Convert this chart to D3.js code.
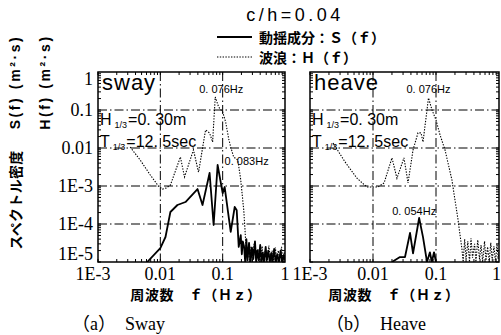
<!DOCTYPE html>
<html><head><meta charset="utf-8">
<script src="https://cdn.jsdelivr.net/npm/d3@7"></script>
<style>
html,body{margin:0;padding:0;background:#fff;}
svg{display:block;}
</style></head>
<body>
<svg id="chart" width="501" height="335"></svg>
<script>
// ---------- data ----------
const xTickValues = [1e-3, 0.01, 0.1, 1];
const xTickLabels = ["1E-3", "0.01", "0.1", "1"];
const yTickValues = [1, 0.1, 0.01, 1e-3, 1e-4, 1e-5];
const yTickLabels = ["1", "0.1", "0.01", "1E-3", "1E-4", "1E-5"];

// Sway: motion component S(f)
const swaySFreq = [0.00616,0.01,0.0121,0.0145,0.0188,0.0253,0.0395,0.0475,0.0617,0.0716,0.083,0.1,0.1077,0.1346,0.156,0.168,0.181,0.195,0.203,0.21,
  0.22,0.23,0.24,0.25,0.265,0.28,0.295,0.31,0.33,0.345,0.36,0.38,0.40,0.42,0.44,0.46,0.49,0.51,0.54,0.57,0.60,0.63,0.67,0.71,0.75,0.80,0.85,0.90,0.95,1.0];
const swaySVal = [1e-5,2.33e-5,4.55e-5,2.07e-4,3.16e-4,3.79e-4,8.3e-4,3.16e-4,2.2e-3,9.4e-5,3.57e-3,6.5e-4,9.4e-4,6.2e-5,2.8e-4,2.3e-4,2.5e-5,5.1e-5,1.6e-5,3.5e-5,
  2.6e-5,1.0e-5,4.0e-5,1.1e-5,3.2e-5,1.0e-5,2.4e-5,1.2e-5,3.5e-5,1.0e-5,2.0e-5,1.1e-5,2.8e-5,1.0e-5,1.8e-5,1.0e-5,2.5e-5,1.1e-5,2.0e-5,1.0e-5,1.7e-5,1.0e-5,2.2e-5,1.0e-5,1.6e-5,1.0e-5,2.0e-5,1.0e-5,1.5e-5,1.1e-5];

// Sway: wave H(f)
const swayHFreq = [0.00328,0.00476,0.0069,0.0093,0.0108,0.0125,0.0145,0.021,0.0244,0.034,0.041,0.0532,0.0617,0.069,0.076,0.0862,0.1,0.1117,0.125,0.1346,0.150,0.175,0.195,0.218,0.235,0.253,
  0.26,0.27,0.285,0.30,0.32,0.34,0.37,0.39,0.43,0.45,0.48,0.52,0.55,0.59,0.62,0.66,0.70,0.74,0.78,0.83,0.88,0.93,0.97,1.0];
const swayHVal = [0.0106,4.8e-3,1.95e-3,1.0e-3,8.3e-4,8.9e-4,1.06e-3,5.8e-3,1.73e-3,8.9e-3,2.3e-3,0.0298,0.0248,0.0144,0.22,0.12,0.0886,0.0483,0.0173,0.0106,5.8e-3,4.8e-3,1.44e-3,2.3e-4,3.2e-5,1.3e-5,
  3e-5,1e-5,2.5e-5,1e-5,3e-5,1.1e-5,2.2e-5,1e-5,2.6e-5,1e-5,1.9e-5,1e-5,2.7e-5,1.1e-5,2e-5,1e-5,2.4e-5,1e-5,2e-5,1.1e-5,2.5e-5,1e-5,1.8e-5,1.2e-5];

// Heave: motion component S(f)
const heaveSFreq = [0.020,0.0268,0.0322,0.0387,0.0432,0.054,0.0622,0.072,0.080,0.0859,0.093,0.1];
const heaveSVal = [1e-5,1.35e-5,1.35e-5,5.8e-5,1.7e-5,1.44e-4,4.5e-5,1e-5,1.8e-5,1e-5,1.8e-5,1e-5];

// Heave: wave H(f)
const heaveHFreq = [0.00232,0.0036,0.00557,0.008,0.012,0.015,0.020,0.024,0.031,0.036,0.0432,0.0518,0.0578,0.0622,0.076,0.0865,0.1,0.116,0.139,0.179,0.224,0.259,
  0.27,0.285,0.30,0.32,0.34,0.36,0.38,0.41,0.43,0.46,0.49,0.52,0.55,0.59,0.62,0.66,0.70,0.74,0.78,0.83,0.88,0.93,0.97,1.0];
const heaveHVal = [0.0135,4.3e-3,1.6e-3,9.4e-4,9.4e-4,1.2e-3,5.5e-3,1.6e-3,5.5e-3,1.2e-3,8.9e-3,0.025,0.025,0.0144,0.207,0.1,0.0546,0.022,8.9e-3,1.44e-3,1.27e-4,2.07e-5,
  1e-5,4e-5,1.2e-5,3.5e-5,1e-5,4.2e-5,1.3e-5,3e-5,1e-5,3.8e-5,1.2e-5,2.8e-5,1e-5,3.5e-5,1.1e-5,2.5e-5,1e-5,3.2e-5,1.1e-5,2.6e-5,1e-5,3e-5,1.2e-5,2e-5];

const panels = [
  {id:"sway", name:"sway", x0:98, x1:285, sF:swaySFreq, sV:swaySVal, hF:swayHFreq, hV:swayHVal,
   notes:[{t:"0. 076Hz", f:0.076, v:0.22, dx:-16, y:93},{t:"0. 083Hz", f:0.083, v:3.57e-3, dx:7, y:165}],
   caption:"（a）　Sway", capX:72, axX:196, showY:true},
  {id:"heave", name:"heave", x0:310, x1:499, sF:heaveSFreq, sV:heaveSVal, hF:heaveHFreq, hV:heaveHVal,
   notes:[{t:"0. 076Hz", f:0.076, v:0.207, dx:-22, y:93},{t:"0. 054Hz", f:0.054, v:1.44e-4, dx:-27, y:215}],
   caption:"（b）　Heave", capX:326, axX:394, showY:false}
];

// ---------- drawing ----------
const svg = d3.select("#chart");
const yTop = 72, yBot = 262;
const y = d3.scaleLog().domain([1e-5, 1]).range([yBot, yTop]);
const serif = "'Liberation Serif','Times New Roman',serif";
const sans = "'Liberation Sans',Arial,sans-serif";
const cjk = "'Noto Sans CJK JP','Noto Sans',sans-serif";

panels.forEach((p, pi) => {
  const x = d3.scaleLog().domain([1e-3, 1]).range([p.x0, p.x1]);
  const g = svg.append("g");
  const clipId = "clip" + pi;
  svg.append("clipPath").attr("id", clipId).append("rect")
    .attr("x", p.x0).attr("y", yTop).attr("width", p.x1 - p.x0).attr("height", yBot - yTop);

  // grid (dash-dot)
  const dash = "9,3,1.5,3";
  [0.1, 0.01, 1e-3, 1e-4].forEach(v => {
    g.append("line").attr("x1", p.x0).attr("x2", p.x1).attr("y1", y(v)).attr("y2", y(v))
      .attr("stroke", "#000").attr("stroke-width", 1).attr("stroke-dasharray", dash);
  });
  [0.01, 0.1].forEach(f => {
    g.append("line").attr("x1", x(f)).attr("x2", x(f)).attr("y1", yTop).attr("y2", yBot)
      .attr("stroke", "#000").attr("stroke-width", 1).attr("stroke-dasharray", dash);
  });

  const dg = g.append("g").attr("clip-path", `url(#${clipId})`);
  const lineGen = d3.line().x(d => x(d[0])).y(d => y(d[1]));
  // wave H(f) dotted
  dg.append("path").datum(p.hF.map((f, i) => [f, p.hV[i]]))
    .attr("d", lineGen).attr("fill", "none").attr("stroke", "#000")
    .attr("stroke-width", 1.1).attr("stroke-dasharray", "1.4,1.4");
  // motion S(f) solid
  dg.append("path").datum(p.sF.map((f, i) => [f, p.sV[i]]))
    .attr("d", lineGen).attr("fill", "none").attr("stroke", "#000")
    .attr("stroke-width", 1.8).attr("stroke-linejoin", "round");

  // frame
  g.append("rect").attr("x", p.x0).attr("y", yTop).attr("width", p.x1 - p.x0).attr("height", yBot - yTop)
    .attr("fill", "none").attr("stroke", "#000").attr("stroke-width", 1.5);

  // minor ticks
  const minorX = [], minorY = [];
  for (let e = -3; e < 0; e++) for (let m = 1; m < 10; m++) minorX.push(m * Math.pow(10, e));
  for (let e = -5; e < 0; e++) for (let m = 1; m < 10; m++) minorY.push(m * Math.pow(10, e));
  minorX.forEach(f => {
    const L = 3;
    g.append("line").attr("x1", x(f)).attr("x2", x(f)).attr("y1", yBot).attr("y2", yBot - L).attr("stroke", "#000").attr("stroke-width", 1);
    g.append("line").attr("x1", x(f)).attr("x2", x(f)).attr("y1", yTop).attr("y2", yTop + L).attr("stroke", "#000").attr("stroke-width", 1);
  });
  minorY.forEach(v => {
    const L = 3;
    g.append("line").attr("x1", p.x0).attr("x2", p.x0 + L).attr("y1", y(v)).attr("y2", y(v)).attr("stroke", "#000").attr("stroke-width", 1);
    g.append("line").attr("x1", p.x1).attr("x2", p.x1 - L).attr("y1", y(v)).attr("y2", y(v)).attr("stroke", "#000").attr("stroke-width", 1);
  });

  // x tick labels
  xTickValues.forEach((f, i) => {
    let xx = x(f), anchor = "middle";
    if (pi === 0 && i === 0) xx -= 5;
    if (pi === 1 && i === 3) { xx = 501; anchor = "end"; }
    g.append("text").attr("x", xx).attr("y", 280).attr("text-anchor", anchor)
      .attr("font-family", serif).attr("font-size", 18).text(xTickLabels[i]);
  });
  // y tick labels
  if (p.showY) {
    yTickValues.forEach((v, i) => {
      let yy = y(v);
      if (i === 0) yy += 7;
      if (i === yTickValues.length - 1) yy -= 8;
      g.append("text").attr("x", 93).attr("y", yy).attr("text-anchor", "end")
        .attr("dominant-baseline", "central")
        .attr("font-family", serif).attr("font-size", 18).text(yTickLabels[i]);
    });
  }

  // panel name
  g.append("text").attr("x", p.x0 + 4).attr("y", 90).attr("font-family", sans)
    .attr("font-size", 22).attr("letter-spacing", 1).text(p.name);

  // H1/3, T1/3
  const sig = [["H", "=0. 30m", 125], ["T", "=12. 5sec", 147]];
  sig.forEach(s => {
    const t = g.append("text").attr("x", p.x0 + 2).attr("y", s[2]).attr("font-family", sans).attr("font-size", 16);
    t.append("tspan").text(s[0]);
    t.append("tspan").attr("font-size", 9).attr("dx", 3).attr("dy", 3).text("1/3");
    t.append("tspan").attr("dy", -3).attr("dx", 1).text(s[1]);
  });

  // peak notes
  p.notes.forEach(n => {
    g.append("text").attr("x", x(n.f) + n.dx).attr("y", n.y).attr("font-family", sans)
      .attr("font-size", 11).text(n.t);
  });

  // x axis title
  g.append("text").attr("x", p.axX).attr("y", 294).attr("text-anchor", "middle")
    .attr("dominant-baseline", "central").attr("font-family", cjk).attr("font-weight", "bold")
    .attr("font-size", 14).attr("letter-spacing", 0.6).text("周波数　ｆ（Ｈｚ）");

  // caption
  g.append("text").attr("x", p.capX).attr("y", 330).attr("font-family", serif + "," + cjk)
    .attr("font-size", 18).text(p.caption);
});

// title
svg.append("text").attr("x", 295).attr("y", 21).attr("text-anchor", "middle")
  .attr("font-family", sans).attr("font-size", 18).attr("letter-spacing", 3.5).text("c/h=0.04");

// legend
const legend = [{t:"動揺成分：Ｓ（ｆ）", y:37, dash:null, w:1.8}, {t:"波浪：Ｈ（ｆ）", y:57, dash:"1.4,1.4", w:1.1}];
legend.forEach(l => {
  svg.append("line").attr("x1", 217).attr("x2", 252).attr("y1", l.y).attr("y2", l.y)
    .attr("stroke", "#000").attr("stroke-width", l.w).attr("stroke-dasharray", l.dash);
  svg.append("text").attr("x", 259).attr("y", l.y).attr("dominant-baseline", "central")
    .attr("font-family", cjk).attr("font-weight", "bold").attr("font-size", 14).text(l.t);
});

// y-axis titles (rotated)
function vtext(cx, cy, txt, fam, ls) {
  svg.append("text").attr("transform", `translate(${cx},${cy}) rotate(-90)`)
    .attr("text-anchor", "middle").attr("dominant-baseline", "central")
    .attr("font-family", fam).attr("font-weight", "bold").attr("font-size", 14)
    .attr("letter-spacing", ls).text(txt);
}
vtext(15, 200, "スペクトル密度", cjk, 0.3);
vtext(15, 82, "S(f) (m²·s)", sans, 2.6);
vtext(45, 82, "H(f) (m²·s)", sans, 2.6);
</script>
</body></html>
